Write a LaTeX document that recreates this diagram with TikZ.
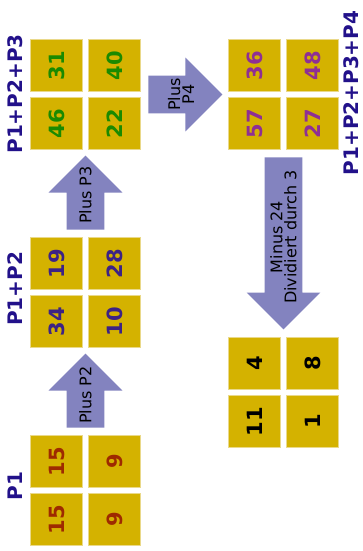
\documentclass[tikz,border=0pt]{standalone}
\usepackage{fontspec}
\setmainfont{DejaVu Sans}
\usetikzlibrary{positioning,calc,shapes.arrows}
\definecolor{gold}{HTML}{D4B200}
\definecolor{goldrand}{HTML}{EAD98A}
\definecolor{lila}{HTML}{8383BF}
\definecolor{nachtblau}{HTML}{22118A}
\definecolor{rostrot}{HTML}{9E2A00}
\definecolor{violett}{HTML}{3C2285}
\definecolor{gruen}{HTML}{1A8A00}
\definecolor{purpur}{HTML}{8E2F94}

\tikzset{
  feld/.style={draw=goldrand, fill=gold, line width=0.75pt, minimum size=39pt,
               inner sep=0pt, rotate=90, font=\fontsize{15.75}{18}\selectfont\bfseries},
  ebene/.style={text=nachtblau, rotate=90, inner sep=0pt,
                font=\fontsize{15}{18}\selectfont\bfseries},
  pfeil/.style={single arrow, fill=lila, inner xsep=0pt, inner ysep=13.875pt,
                single arrow head extend=13.5pt, single arrow tip angle=90,
                minimum height=55.5pt},
  pfeiltext/.style={rotate=90, align=center, inner sep=0pt,
                    font=\fontsize{12}{10.5}\selectfont},
}
\newcommand{\zahlgrid}[8]{%
  \foreach \i/\dx/\dy/\v in {a/0/0/#5, b/58/0/#6, c/0/58/#7, d/58/58/#8}
    \node[feld, text=#4] (#1\i) at (#2+26.5+\dx, #3+26.5+\dy) {\v};
}

\begin{document}
\begin{tikzpicture}[x=0.75pt, y=-0.75pt]
  \useasboundingbox (0,0) rectangle (362,551);
  % Zahlenquadrate
  \zahlgrid{g1}{30}{435}{rostrot}{15}{9}{15}{9}
  \zahlgrid{g2}{30}{237}{violett}{19}{28}{34}{10}
  \zahlgrid{g3}{30}{39}{gruen}{31}{40}{46}{22}
  \zahlgrid{g4}{228}{39}{purpur}{36}{48}{57}{27}
  \zahlgrid{g5}{228}{337}{black}{4}{8}{11}{1}
  % Beschriftungen
  \node[ebene] (l1) at (15,486) {P1};
  \node[ebene] (l2) at (15,289) {P1+P2};
  \node[ebene] (l3) at (15,94) {P1+P2+P3};
  \node[ebene] (l4) at (351,93) {P1+P2+P3+P4};
  % Pfeile
  \node[pfeil, rotate=90, anchor=tail] (plus2) at ($(g1a)!0.5!(g1b)+(0,-33.5)$) {};
  \node[pfeiltext] (tplus2) at ($(plus2.tail)+(0,-33)$) {Plus P2};
  \node[pfeil, rotate=90, anchor=tail] (plus3) at ($(g2a)!0.5!(g2b)+(0,-33.5)$) {};
  \node[pfeiltext] (tplus3) at ($(plus3.tail)+(0,-35)$) {Plus P3};
  \node[pfeil, anchor=tail] (plus4) at ($(g3b)!0.5!(g3d)+(33.5,0)$) {};
  \node[pfeiltext] (tplus4) at ($(plus4.tail)+(33,0)$) {Plus\\P4};
  \node[pfeil, rotate=-90, anchor=tail, minimum height=129pt] (minus)
       at ($(g4c)!0.5!(g4d)+(0,33.5)$) {};
  \node[pfeiltext] (tminus) at ($(minus.tail)+(0,80)$) {Minus 24\\Dividiert durch 3};
\end{tikzpicture}
\end{document}
